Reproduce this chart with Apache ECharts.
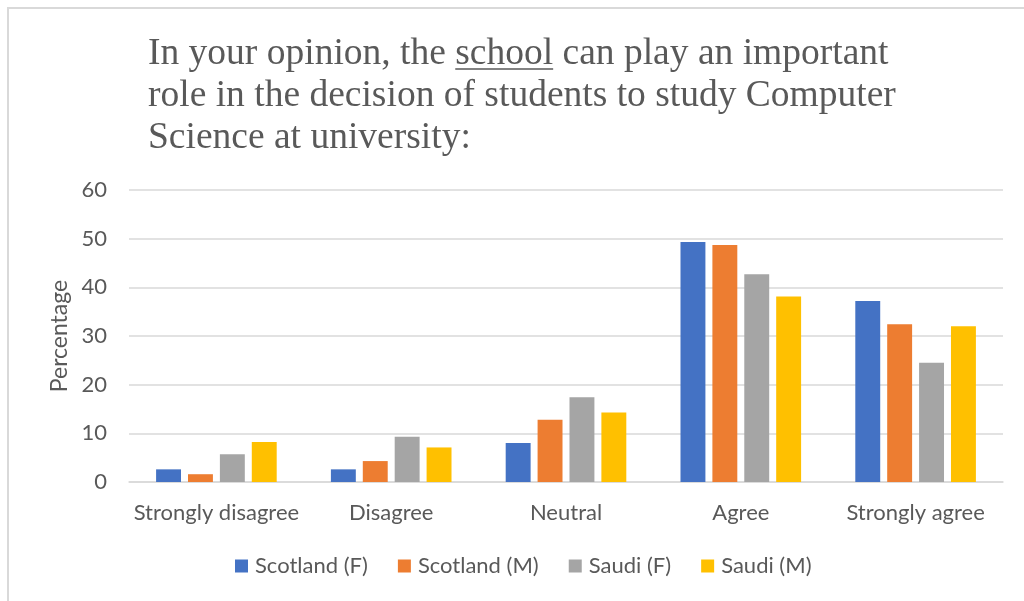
<!DOCTYPE html>
<html>
<head>
<meta charset="utf-8">
<script src="https://cdn.jsdelivr.net/npm/echarts@6/dist/echarts.min.js"></script>
<style>
  html, body { margin: 0; padding: 0; background: #ffffff; }
  #chart { width: 1024px; height: 601px; }
</style>
</head>
<body>
<div id="chart"></div>
<script>
// Survey answers per group, in percent
const categories = ['Strongly disagree', 'Disagree', 'Neutral', 'Agree', 'Strongly agree'];
const scotlandF = [2.6, 2.6, 8.0, 49.3, 37.2];
const scotlandM = [1.6, 4.3, 12.8, 48.7, 32.4];
const saudiF    = [5.7, 9.3, 17.4, 42.7, 24.5];
const saudiM    = [8.2, 7.1, 14.3, 38.1, 32.0];
const seriesNames = ['Scotland (F)', 'Scotland (M)', 'Saudi (F)', 'Saudi (M)'];
const yTicks = { min: 0, max: 60, interval: 10 };

const titleLines = [
  ['In your opinion, the ', 'school', ' can play an important'],
  ['role in the decision of students to study Computer'],
  ['Science at university:']
];

const colors = ['#4472C4', '#ED7D31', '#A5A5A5', '#FFC000'];
const sansFont = 'Lato';
const serifFont = 'Liberation Serif';
const textColor = '#595959';
const labelSize = 22;
const titleSize = 37.5;
const titleLeft = 148;
const titleTop = 33;
const titleLineHeight = 42;

// Measure the first title line to place the underline below "school"
const measureCtx = document.createElement('canvas').getContext('2d');
measureCtx.font = titleSize + 'px "' + serifFont + '"';
const beforeW = measureCtx.measureText(titleLines[0][0]).width;
const wordW = measureCtx.measureText(titleLines[0][1]).width;

const chart = echarts.init(document.getElementById('chart'));
const data = [scotlandF, scotlandM, saudiF, saudiM];

chart.setOption({
  animation: false,
  backgroundColor: '#ffffff',
  color: colors,
  title: {
    text: titleLines.map(l => l.join('')).join('\n'),
    left: titleLeft,
    top: titleTop,
    padding: 0,
    textStyle: {
      fontFamily: serifFont,
      fontSize: titleSize,
      fontWeight: 'normal',
      color: textColor,
      lineHeight: titleLineHeight
    }
  },
  graphic: [
    {
      type: 'rect',
      shape: { x: 8, y: 8, width: 1040, height: 620 },
      style: { fill: 'none', stroke: '#d9d9d9', lineWidth: 2 },
      silent: true
    },
    {
      type: 'line',
      shape: {
        x1: titleLeft + beforeW, y1: 69,
        x2: titleLeft + beforeW + wordW, y2: 69
      },
      style: { stroke: textColor, lineWidth: 1.6 },
      silent: true
    }
  ],
  legend: {
    data: seriesNames,
    left: 235,
    top: 555,
    icon: 'rect',
    itemWidth: 13,
    itemHeight: 13,
    itemGap: 30,
    padding: 0,
    textStyle: { fontFamily: sansFont, fontSize: labelSize, color: textColor, padding: [0, 0, 0, 2] }
  },
  grid: { left: 129, right: 21, top: 190, bottom: 119, containLabel: false },
  xAxis: {
    type: 'category',
    data: categories,
    axisLine: { lineStyle: { color: '#d9d9d9', width: 1.5 } },
    axisTick: { show: false },
    axisLabel: { interval: 0, fontFamily: sansFont, fontSize: labelSize, color: textColor, margin: 20 }
  },
  yAxis: {
    type: 'value',
    min: yTicks.min,
    max: yTicks.max,
    interval: yTicks.interval,
    name: 'Percentage',
    nameLocation: 'middle',
    nameGap: 58,
    nameRotate: 90,
    nameTextStyle: { fontFamily: sansFont, fontSize: 23, color: textColor },
    axisLine: { show: false },
    axisTick: { show: false },
    splitLine: { lineStyle: { color: '#d9d9d9', width: 1.5 } },
    axisLabel: { fontFamily: sansFont, fontSize: labelSize, color: textColor, margin: 22 }
  },
  series: seriesNames.map((name, i) => ({
    name: name,
    type: 'bar',
    data: data[i],
    barGap: '28%',
    barCategoryGap: '31%'
  }))
});
</script>
</body>
</html>
